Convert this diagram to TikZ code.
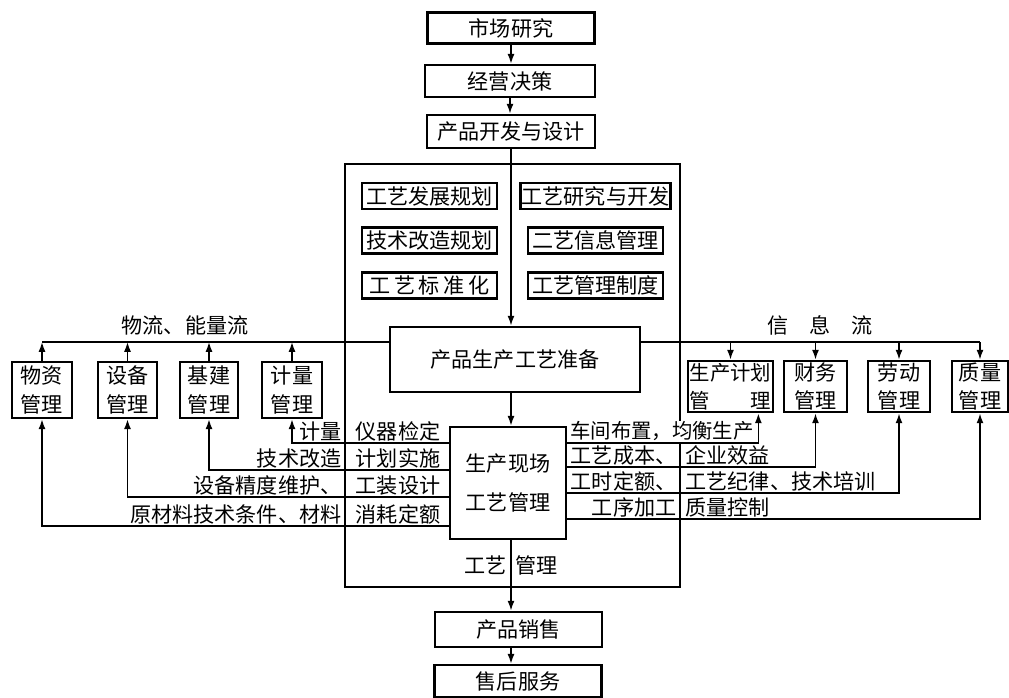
\documentclass[tikz,border=0pt]{standalone}
\usepackage{fontspec}
\setmainfont{Noto Sans CJK SC}
\usetikzlibrary{arrows.meta, calc}

\tikzset{
  box/.style={draw, line width=1.8pt, inner sep=1pt, font=\fontsize{15}{17}\selectfont},
  planbox/.style={box, minimum width=3.38cm, minimum height=0.65cm},
  mgrbox/.style={box, align=center, minimum height=1.4cm, font=\fontsize{15}{20}\selectfont},
  lbl/.style={inner sep=1pt, font=\fontsize{15}{17}\selectfont},
  link/.style={line width=1.1pt},
  arr/.style={link, -{Latex[length=7pt,width=5pt]}},
}

\begin{document}
\begin{tikzpicture}[x=0.025cm, y=-0.025cm]
  \useasboundingbox (0,0) rectangle (1009,698);
  \coordinate (axis) at (511,0);
  \coordinate (fl) at (0,342);
  % rows of the shop floor
  \coordinate (ra) at (0,443);
  \coordinate (rb) at (0,470);
  \coordinate (rc) at (0,497);
  \coordinate (rd) at (0,526);
  \coordinate (qa) at (0,443);
  \coordinate (qb) at (0,467);
  \coordinate (qc) at (0,493);
  \coordinate (qd) at (0,519);

  % main column
  \node[box, minimum width=4.18cm, minimum height=0.78cm] (mkt) at (511,28) {市场研究};
  \node[box, minimum width=4.25cm, minimum height=0.8cm] (dec) at (510,81) {经营决策};
  \node[box, minimum width=4.2cm, minimum height=0.83cm] (dev) at (511,131.5) {产品开发与设计};
  \node[draw, line width=1.4pt, minimum width=8.38cm, minimum height=10.58cm] (big) at (512.5,375.5) {};

  \node[planbox] (plan1) at (429.5,196) {工艺发展规划};
  \node[planbox] (plan2) at (429.5,240.5) {技术改造规划};
  \node[planbox] (plan3) at (429.5,285.5) {工\,艺\,标\,准\,化};
  \node[planbox] (plan4) at (595.5,196) {工艺研究与开发};
  \node[planbox] (plan5) at (595.5,240.5) {二艺信息管理};
  \node[planbox] (plan6) at (595.5,285.5) {工艺管理制度};

  \node[box, minimum width=6.25cm, minimum height=1.63cm] (prep) at (515,359.5) {产品生产工艺准备};
  \node[box, align=center, minimum width=2.9cm, minimum height=2.8cm,
        font=\fontsize{15}{28}\selectfont] (shop) at (508,483) {生产现场\\工艺管理};
  \node[box, minimum width=4.18cm, minimum height=0.88cm] (sales) at (518.5,629.5) {产品销售};
  \node[box, minimum width=4.18cm, minimum height=0.8cm] (svc) at (518,681) {售后服务};

  % management boxes
  \node[mgrbox, minimum width=1.5cm] (wz) at (42,390) {物资\\管理};
  \node[mgrbox, minimum width=1.48cm] (sb) at (127.5,390) {设备\\管理};
  \node[mgrbox, minimum width=1.45cm] (jj) at (209,390) {基建\\管理};
  \node[mgrbox, minimum width=1.5cm] (jl) at (292,390) {计量\\管理};
  \node[mgrbox, minimum width=2.13cm, minimum height=1.28cm, inner sep=0pt,
        font=\fontsize{14.5}{20}\selectfont] (jh) at (730.5,386.5) {生产计划\\管\hspace{2em}理};
  \node[mgrbox, minimum width=1.58cm, minimum height=1.28cm] (cw) at (815.5,386.5) {财务\\管理};
  \node[mgrbox, minimum width=1.55cm, minimum height=1.28cm] (ld) at (899,386.5) {劳动\\管理};
  \node[mgrbox, minimum width=1.4cm, minimum height=1.28cm] (zl) at (980,386.5) {质量\\管理};

  % main flow
  \draw[arr] (mkt.south) -- (mkt.south |- dec.north);
  \draw[arr] (dec.south) -- (dec.south |- dev.north);
  \draw[arr] (dev.south) -- (dev.south |- prep.north);
  \draw[arr] (prep.south -| axis) -- (shop.north -| axis);
  \draw[arr] (shop.south -| axis) -- (sales.north -| axis);
  \draw[arr] (sales.south -| axis) -- (svc.north -| axis);

  % material, energy and information flow
  \draw[link] (prep.west |- fl) -- (wz.north |- fl);
  \draw[link] (prep.east |- fl) -- (zl.north |- fl);
  \foreach \b in {wz,sb,jj,jl} \draw[arr] (\b.north) -- (\b.north |- fl);
  \foreach \b in {jh,cw,ld,zl} \draw[arr] (\b.north |- fl) -- (\b.north);
  \node[lbl] (flowl) at (185,325) {物流、能量流};
  \node[lbl] (flowr) at (820,325) {信\hspace{1em}息\hspace{1em}流};

  % feedback from the shop floor
  \draw[arr] (shop.west |- ra) -| (jl.south);
  \draw[arr] (shop.west |- rb) -| (jj.south);
  \draw[arr] (shop.west |- rc) -| (sb.south);
  \draw[arr] (shop.west |- rd) -| (wz.south);
  \draw[arr] (shop.east |- qa) -| ([xshift=-0.4cm]jh.south east);
  \draw[arr] (shop.east |- qb) -| (cw.south);
  \draw[arr] (shop.east |- qc) -| (ld.south);
  \draw[arr] (shop.east |- qd) -| (zl.south);

  \node[lbl, anchor=south east] (la1) at (343,443) {计量};
  \node[lbl, anchor=south] (la2) at (398,443) {仪器检定};
  \node[lbl, anchor=south east] (lb1) at (343,470) {技术改造};
  \node[lbl, anchor=south] (lb2) at (398,470) {计划实施};
  \node[lbl, anchor=south east] (lc1) at (343,497) {设备精度维护、};
  \node[lbl, anchor=south] (lc2) at (398,497) {工装设计};
  \node[lbl, anchor=south east] (ld1) at (343,526) {原材料技术条件、材料};
  \node[lbl, anchor=south] (ld2) at (398,526) {消耗定额};

  \node[lbl, anchor=south, fill=white, inner sep=0.5pt,
        font=\fontsize{14.5}{17}\selectfont] (ra1) at (662,442) {车间布置，均衡生产};
  \node[lbl, anchor=south east] (rb1) at (678,467) {工艺成本、};
  \node[lbl, anchor=south west] (rb2) at (684,467) {企业效益};
  \node[lbl, anchor=south east] (rc1) at (678,493) {工时定额、};
  \node[lbl, anchor=south west] (rc2) at (684,493) {工艺纪律、技术培训};
  \node[lbl, anchor=south east] (rd1) at (678,519) {工序加工};
  \node[lbl, anchor=south west] (rd2) at (684,519) {质量控制};

  \node[lbl, anchor=east] (gy) at (508,565) {工艺};
  \node[lbl, anchor=west] (gl) at (514,565) {管理};
\end{tikzpicture}
\end{document}
